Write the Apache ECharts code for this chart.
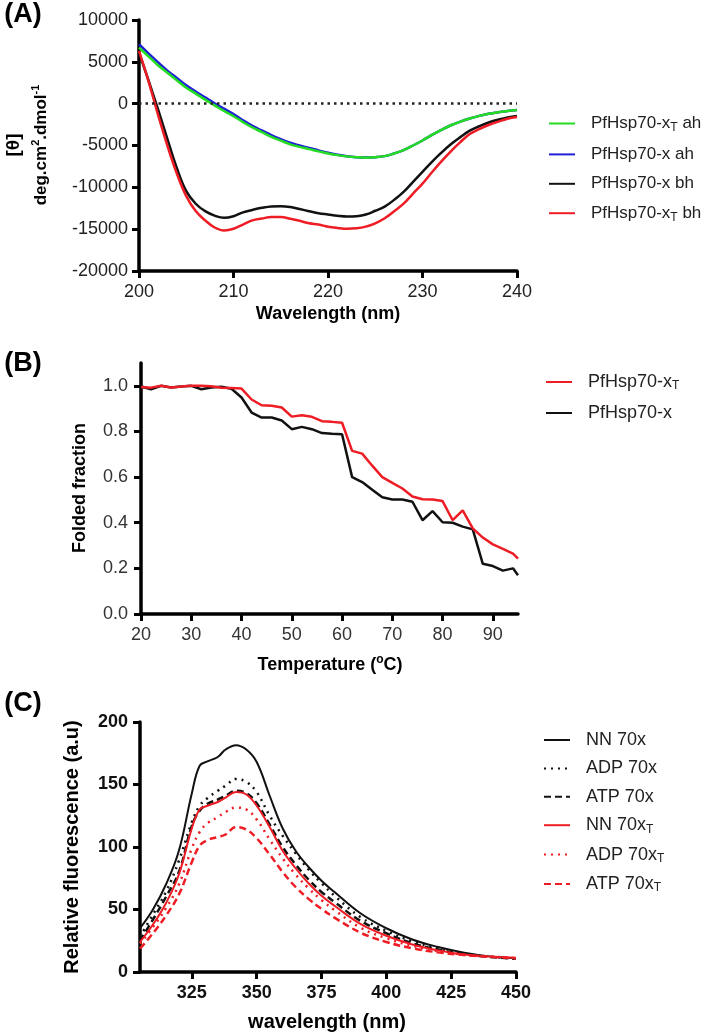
<!DOCTYPE html>
<html>
<head>
<meta charset="utf-8">
<script src="https://cdn.jsdelivr.net/npm/echarts@6/dist/echarts.min.js"></script>
<style>html,body{margin:0;padding:0;background:#fff}#chart{width:709px;height:1036px}</style>
</head>
<body>
<div id="chart"></div>
<script>
// (A) CD spectra
var wlA = [200,201,202,203,204,205,206,207,208,209,210,211,212,213,214,215,216,217,218,219,220,
           221,222,223,224,225,226,227,228,229,230,231,232,233,234,235,236,237,238,239,240];
var xtAh = [6700,5650,4600,3700,2800,1910,1200,480,-200,-880,-1500,-2200,-2850,-3400,-3970,-4420,-4860,-5160,-5430,-5700,-5950,
            -6150,-6300,-6400,-6450,-6400,-6270,-5950,-5550,-5000,-4400,-3740,-3130,-2580,-2150,-1780,-1460,-1200,-1020,-880,-760];
var xAh  = [7100,6000,4950,3950,3080,2190,1450,750,50,-600,-1230,-1980,-2650,-3200,-3750,-4250,-4670,-5000,-5300,-5580,-5870,
            -6100,-6280,-6390,-6440,-6400,-6270,-5950,-5550,-5000,-4400,-3740,-3130,-2580,-2150,-1780,-1460,-1200,-1020,-880,-760];
var xBh  = [6100,2800,-630,-4210,-7680,-10450,-11960,-12850,-13380,-13640,-13450,-13000,-12700,-12450,-12280,-12250,-12350,-12600,-12850,-13100,-13250,
            -13400,-13500,-13450,-13250,-12800,-12300,-11500,-10550,-9350,-8150,-6950,-5850,-4850,-4000,-3220,-2700,-2250,-1920,-1650,-1480];
var xtBh = [6300,2700,-1270,-5010,-8350,-11050,-12840,-13950,-14800,-15150,-14950,-14450,-13950,-13730,-13550,-13550,-13750,-14000,-14300,-14450,-14700,
            -14850,-14950,-14900,-14700,-14300,-13700,-12850,-11950,-10750,-9550,-8200,-6900,-5700,-4600,-3620,-3050,-2550,-2150,-1800,-1600];

// (B) thermal unfolding
var tempB = [20,22,24,26,28,30,32,34,36,38,40,42,44,46,48,50,52,54,56,58,60,62,64,66,68,70,72,74,76,78,80,82,84,86,88,90,92,94,95];
var foldXT = [0.995,0.992,1.0,0.993,0.997,1.0,1.0,0.998,0.992,0.99,0.988,0.94,0.915,0.913,0.905,0.865,0.871,0.864,0.845,0.842,0.838,
              0.715,0.703,0.65,0.6,0.575,0.55,0.515,0.503,0.502,0.495,0.411,0.454,0.375,0.335,0.305,0.285,0.265,0.243];
var foldX  = [0.997,0.985,1.0,0.993,0.997,1.0,0.985,0.993,0.996,0.987,0.949,0.883,0.861,0.861,0.848,0.81,0.82,0.81,0.793,0.79,0.788,
              0.6,0.578,0.545,0.512,0.502,0.502,0.492,0.411,0.451,0.402,0.4,0.383,0.371,0.22,0.21,0.19,0.2,0.17];

// (C) tryptophan fluorescence
var wlC = [305,310,315,320,325,328,331,335,338,342,346,350,355,360,365,370,375,380,390,400,410,420,430,440,450];
var nn70x   = [35,50,70,97,143,165,168.5,172,178,181.5,178,168,141,115,97,84,73,64,47,35,26,20,15.5,12.5,11];
var adp70x  = [28,46,64,89,120,133,139,145,149,154.5,152,144,125,109,95,82,71,61,44,33,24.5,19,14.8,12.2,10.7];
var atp70x  = [25,42,60,80,117,129,134.5,138,141,145,143,135,118,100,86,74,64,56,41,31,23,18,14.3,12,10.7];
var nn70xT  = [24,38,55,78,115,130,133,136,139.5,144,142,133,116,97,83,71,61,53,38.5,29,22,17.3,14,12.3,11.5];
var adp70xT = [22.7,36,51,70,99,112,119,124,128,131.5,130,122,106,91,78,67,57.5,49.5,35.5,27,21,16.8,13.8,12.3,11.2];
var atp70xT = [18.7,31,45,62,88,101,105.5,108,110,116,114,107,94,80,68,58.5,50.5,43.5,31.5,24,19,15.7,13.5,12.2,10.9];

var ticksB = [0,0.2,0.4,0.6,0.8,1.0];
var ticksBx = [20,30,40,50,60,70,80,90];
var ticksCx = [325,350,375,400,425,450];

var FONT = '"Liberation Sans", Arial, sans-serif';
var GREEN = '#22dd22', BLUE = '#1f1fd6', BLACK = '#111111', RED = '#ee1c24';

function pairs(xs, ys) { return xs.map(function (x, i) { return [x, ys[i]]; }); }

var axisLine = { show: true, onZero: false, lineStyle: { color: '#000', width: 3.5 } };
var axisTick = { show: true, inside: false, length: 7, lineStyle: { color: '#000', width: 3 } };
function lbl(extra) {
  var o = { fontFamily: FONT, fontSize: 18, color: '#222', margin: 12 };
  for (var k in extra) o[k] = extra[k];
  return o;
}

function line(name, xi, data, color, width, type, z) {
  return {
    name: name, type: 'line', xAxisIndex: xi, yAxisIndex: xi, data: data,
    smooth: xi === 1 ? false : 0.4, symbol: 'none', z: z || 2,
    lineStyle: { color: color, width: width, type: type || 'solid' },
    itemStyle: { color: color }
  };
}

function legend(names, left, top, gap, size) {
  var rich = {
    n: { fontFamily: FONT, fontSize: size, color: '#222', lineHeight: 20 },
    s: { fontFamily: FONT, fontSize: 12, color: '#222', lineHeight: 20, verticalAlign: 'bottom' }
  };
  return {
    data: names, orient: 'vertical', left: left, top: top, itemGap: gap, padding: 0,
    itemWidth: 26, itemHeight: 14, selectedMode: false,
    itemStyle: { opacity: 0 },
    formatter: function (name) {
      var m = name.match(/^(.*x)T(.*)$/);
      if (!m) return '{n|' + name + '}';
      return '{n|' + m[1] + '}{s|T}' + (m[2] ? '{n|' + m[2] + '}' : '');
    },
    textStyle: { rich: rich, padding: [0, 0, 0, 11] }
  };
}

function gtext(x, y, text, size, rot) {
  var r = {
    b: { fontFamily: FONT, fontSize: size, fontWeight: 'bold', color: '#111', lineHeight: size + 4 },
    u: { fontFamily: FONT, fontSize: Math.round(size * 0.65), fontWeight: 'bold', color: '#111', lineHeight: size + 4, verticalAlign: 'top' }
  };
  return {
    type: 'text', x: x, y: y, rotation: rot ? Math.PI / 2 : 0, z: 10,
    style: { text: text, rich: r, align: 'center', verticalAlign: 'middle' }
  };
}

var chart = echarts.init(document.getElementById('chart'));
chart.setOption({
  backgroundColor: '#fff',
  animation: false,
  grid: [
    { left: 139, top: 20, width: 378, height: 251 },
    { left: 141, top: 363, width: 377, height: 251 },
    { left: 140, top: 722, width: 376, height: 250 }
  ],
  xAxis: [
    { type: 'value', gridIndex: 0, min: 200, max: 240, interval: 10, axisLine: axisLine, axisTick: axisTick,
      axisLabel: lbl({}), splitLine: { show: false } },
    { type: 'value', gridIndex: 1, min: 20, max: 95, axisLine: axisLine,
      axisTick: { show: true, length: 7, lineStyle: { color: '#000', width: 3 }, customValues: ticksBx },
      axisLabel: lbl({ customValues: ticksBx, color: '#333' }), splitLine: { show: false } },
    { type: 'value', gridIndex: 2, min: 305, max: 450, axisLine: axisLine,
      axisTick: { show: true, length: 7, lineStyle: { color: '#000', width: 3 }, customValues: ticksCx },
      axisLabel: lbl({ customValues: ticksCx, fontWeight: 'bold', color: '#111' }), splitLine: { show: false } }
  ],
  yAxis: [
    { type: 'value', gridIndex: 0, min: -20000, max: 10000, interval: 5000, axisLine: axisLine, axisTick: axisTick,
      axisLabel: lbl({ margin: 11, formatter: function (v) { return String(v); } }), splitLine: { show: false } },
    { type: 'value', gridIndex: 1, min: 0, max: 1.1, axisLine: axisLine,
      axisTick: { show: true, length: 7, lineStyle: { color: '#000', width: 3 }, customValues: ticksB },
      axisLabel: lbl({ customValues: ticksB, color: '#333', margin: 13, formatter: function (v) { return v.toFixed(1); } }),
      splitLine: { show: false } },
    { type: 'value', gridIndex: 2, min: 0, max: 200, interval: 50, axisLine: axisLine, axisTick: axisTick,
      axisLabel: lbl({ fontWeight: 'bold', color: '#111' }), splitLine: { show: false } }
  ],
  legend: [
    legend(['PfHsp70-xT ah', 'PfHsp70-x ah', 'PfHsp70-x bh', 'PfHsp70-xT bh'], 548, 115, 12.4, 17),
    legend(['PfHsp70-xT', 'PfHsp70-x'], 545, 373, 12, 18),
    legend(['NN 70x', 'ADP 70x', 'ATP 70x', 'NN 70xT', 'ADP 70xT', 'ATP 70xT'], 543, 731, 10.4, 18)
  ],
  series: [
    (function () {
      var s = line('PfHsp70-x ah', 0, pairs(wlA, xAh), BLUE, 2.5);
      s.markLine = { silent: true, symbol: 'none', label: { show: false },
        lineStyle: { color: '#222', width: 2.5, type: [2.5, 4] }, data: [{ yAxis: 0 }] };
      return s;
    })(),
    line('PfHsp70-xT ah', 0, pairs(wlA, xtAh), GREEN, 2.5, 'solid', 3),
    line('PfHsp70-x bh', 0, pairs(wlA, xBh), BLACK, 2.5),
    line('PfHsp70-xT bh', 0, pairs(wlA, xtBh), RED, 2.5),

    line('PfHsp70-x', 1, pairs(tempB, foldX), BLACK, 2.5),
    line('PfHsp70-xT', 1, pairs(tempB, foldXT), RED, 2.5),

    line('NN 70x', 2, pairs(wlC, nn70x), BLACK, 2),
    line('ADP 70x', 2, pairs(wlC, adp70x), BLACK, 2.5, [2, 5]),
    line('ATP 70x', 2, pairs(wlC, atp70x), BLACK, 2.5, [7, 4]),
    line('NN 70xT', 2, pairs(wlC, nn70xT), RED, 2),
    line('ADP 70xT', 2, pairs(wlC, adp70xT), RED, 2.5, [2, 5]),
    line('ATP 70xT', 2, pairs(wlC, atp70xT), RED, 2.5, [7, 4])
  ],
  graphic: [
    gtext(23, 15, '{b|(A)}', 27),
    gtext(23, 364, '{b|(B)}', 27),
    gtext(23, 704, '{b|(C)}', 27),
    gtext(14, 145, '{b|[θ]}', 19, true),
    gtext(41, 145, '{b|deg.cm}{u|2}{b|.dmol}{u|-1}', 17, true),
    gtext(328, 314, '{b|Wavelength (nm)}', 18),
    gtext(80, 488, '{b|Folded fraction}', 18, true),
    gtext(330, 665, '{b|Temperature (}{u|o}{b|C)}', 18),
    gtext(72, 847, '{b|Relative fluorescence (a.u)}', 20, true),
    gtext(327, 1022, '{b|wavelength (nm)}', 20)
  ]
});
</script>
</body>
</html>
